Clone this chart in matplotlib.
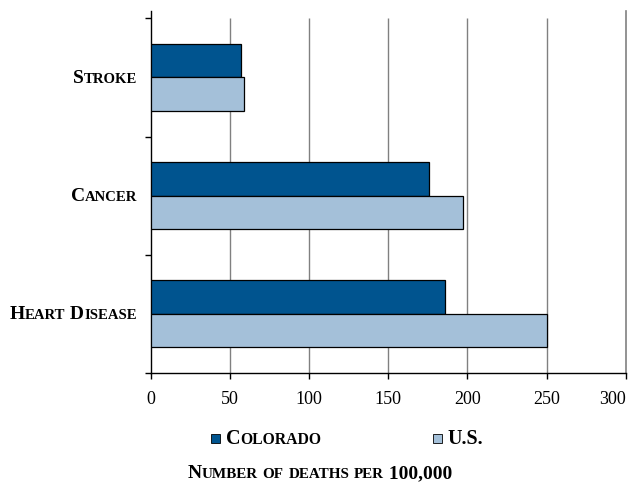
import matplotlib
matplotlib.use("Agg")
import matplotlib.pyplot as plt
import numpy as np
from matplotlib.offsetbox import TextArea, HPacker, DrawingArea, AnnotationBbox
from matplotlib.patches import Rectangle

# death rates per 100,000 (bottom to top)
categories = ["Heart Disease", "Cancer", "Stroke"]
colorado = [186, 176, 57]
us = [250, 197, 59]
series_names = ["Colorado", "U.S."]
x_ticks = [0, 50, 100, 150, 200, 250, 300]

FONT = "Liberation Serif"
DARK = "#00548f"
LIGHT = "#a4c0d9"
GRID = "#808080"


def small_caps(text, size, weight="bold", ratio=0.78):
    """Build a small-caps label out of text chunks aligned on a common baseline."""
    chunks = []
    for ch in text:
        big = not ch.islower()
        if chunks and chunks[-1][1] == big:
            chunks[-1][0] += ch
        else:
            chunks.append([ch, big])
    children = [TextArea(s.upper(), textprops=dict(size=size if big else size * ratio,
                                                   fontweight=weight, family=FONT,
                                                   color="black"))
                for s, big in chunks]
    return HPacker(children=children, align="baseline", pad=0, sep=0)


fig = plt.figure(figsize=(6.32, 4.85), dpi=100)
ax = fig.add_axes([150.5 / 632, 1 - 374 / 485, (625.7 - 150.5) / 632, (374 - 12) / 485])

y = np.arange(len(categories))
h = 0.283
ax.barh(y + h / 2, colorado, height=h, color=DARK, edgecolor="black", linewidth=0.9, zorder=3)
ax.barh(y - h / 2, us, height=h, color=LIGHT, edgecolor="black", linewidth=0.9, zorder=3)

ax.set_xlim(0, 300)
ax.set_ylim(-0.5, 2.562)

# vertical gridlines stop at the top category boundary
ax.vlines(x_ticks[1:-1], -0.5, 2.5, color=GRID, linewidth=1.0, zorder=1)

ax.spines["top"].set_visible(False)
ax.spines["right"].set_color(GRID)
ax.spines["right"].set_linewidth(1.2)
ax.spines["left"].set_linewidth(1.0)
ax.spines["bottom"].set_linewidth(1.0)

ax.set_xticks(x_ticks)
ax.set_xticklabels([str(t) for t in x_ticks], family=FONT, fontsize=13)
ax.get_xticklabels()[-1].set_horizontalalignment("right")
ax.tick_params(axis="x", direction="out", length=4, width=1, pad=8)
ax.set_yticks(np.arange(-0.5, len(categories), 1.0))
ax.set_yticklabels([])
ax.tick_params(axis="y", direction="out", length=4, width=1)

# category labels in small caps
for i, name in enumerate(categories):
    ab = AnnotationBbox(small_caps(name, 14, ratio=0.76), (0, i), xycoords=ax.get_yaxis_transform(),
                        xybox=(-9.7, 0), boxcoords="offset points",
                        box_alignment=(1, 0.5), frameon=False, annotation_clip=False)
    ax.add_artist(ab)

# legend entries
for name, color, xpos in zip(series_names, [DARK, LIGHT], [211 / 632, 433 / 632]):
    da = DrawingArea(6.5, 6.5, 0, 0)
    da.add_artist(Rectangle((0, 0), 6.5, 6.5, facecolor=color, edgecolor="black", linewidth=0.6))
    item = HPacker(children=[da, small_caps(name, 14.5)], align="baseline", pad=0, sep=4)
    fig.add_artist(AnnotationBbox(item, (xpos, 1 - 439 / 485), xycoords="figure fraction",
                                  box_alignment=(0, 0.5), frameon=False))

fig.add_artist(AnnotationBbox(small_caps("Number of deaths per 100,000", 14), (320 / 632, 1 - 474 / 485),
                              xycoords="figure fraction", box_alignment=(0.5, 0.5), frameon=False))

fig.savefig("out.png", dpi=100)
